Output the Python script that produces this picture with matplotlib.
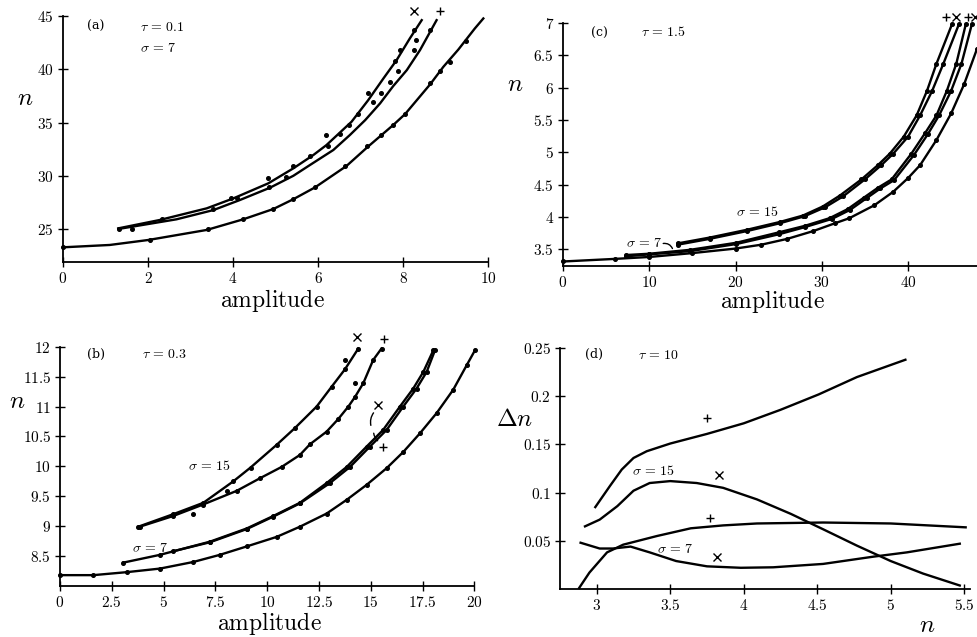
import numpy as np
import matplotlib
matplotlib.use("Agg")
import matplotlib.pyplot as plt
from matplotlib.ticker import FuncFormatter

plt.rcParams["mathtext.fontset"] = "cm"
plt.rcParams["font.family"] = "serif"
plt.rcParams["font.serif"] = ["DejaVu Serif"]

# ---- panel (a): tau = 0.1, sigma = 7 ----
a_up_x = [1.30, 2.28, 3.38, 4.01, 4.83, 5.42, 5.89, 6.20, 6.79, 7.18, 7.54, 7.85, 8.16, 8.44]
a_up_y = [25.06, 25.85, 26.94, 27.88, 29.29, 30.70, 31.95, 32.89, 35.08, 37.1, 39.15, 40.87, 42.9, 44.62]
a_mid_x = [1.30, 2.67, 3.54, 4.16, 4.87, 5.42, 5.81, 6.36, 6.75, 7.11, 7.46, 7.77, 8.09, 8.40, 8.79]
a_mid_y = [25.0, 25.91, 26.78, 27.72, 28.88, 30.0, 31.01, 32.42, 33.83, 35.23, 36.8, 38.43, 39.93, 41.81, 44.62]
a_low_x = [0, 1.1, 2.01, 3.38, 4.24, 4.95, 5.42, 5.93, 6.67, 7.18, 7.77, 8.05, 8.64, 8.95, 9.30, 9.69, 9.89]
a_low_y = [23.28, 23.5, 23.97, 24.91, 25.91, 26.88, 27.8, 28.91, 30.92, 32.75, 34.77, 35.8, 38.6, 40.24, 41.85, 43.84, 44.78]
a_dot_x = [1.31, 1.62, 2.33, 3.96, 4.82, 5.41, 6.18, 6.73, 7.18, 7.80, 7.92, 8.27, 8.30,
           3.53, 4.09, 4.85, 5.24, 5.80, 6.24, 6.51, 6.94, 7.29, 7.49, 7.69, 7.88, 8.27, 8.63,
           0, 2.04, 3.41, 4.24, 4.94, 5.40, 5.92, 6.63, 7.16, 7.49, 7.76, 8.04, 8.63, 8.86, 9.10, 9.49]
a_dot_y = [25.0, 25.0, 25.9, 27.9, 29.8, 30.9, 33.8, 34.8, 37.8, 40.8, 41.8, 43.7, 42.8,
           26.9, 27.9, 28.9, 29.9, 31.9, 32.8, 33.9, 35.8, 36.9, 37.8, 38.8, 39.8, 41.8, 43.7,
           23.3, 24.0, 25.0, 25.9, 26.9, 27.8, 28.9, 30.9, 32.8, 33.8, 34.8, 35.8, 38.7, 39.8, 40.7, 42.7]

# ---- panel (b): tau = 0.3 ----
b_15x_x = [3.78, 5.47, 6.92, 8.37, 9.20, 10.46, 11.34, 12.39, 13.11, 13.75, 14.40]
b_15x_y = [8.99, 9.20, 9.39, 9.75, 9.98, 10.36, 10.64, 11.0, 11.33, 11.62, 11.97]
b_15p_x = [3.85, 5.47, 6.9, 8.53, 9.65, 10.70, 11.58, 12.07, 12.87, 13.43, 13.92, 14.24, 14.64, 15.12, 15.52]
b_15p_y = [8.99, 9.17, 9.36, 9.59, 9.80, 9.99, 10.19, 10.37, 10.58, 10.79, 11.0, 11.16, 11.39, 11.78, 11.97]
b_7x_x = [3.06, 4.83, 7.24, 9.01, 10.30, 11.58, 12.87, 13.84, 14.80, 15.60, 16.41, 17.05, 17.54, 18.02]
b_7x_y = [8.39, 8.52, 8.74, 8.96, 9.17, 9.39, 9.72, 9.99, 10.33, 10.61, 11.0, 11.30, 11.58, 11.94]
b_7p_x = [5.47, 7.24, 9.01, 10.30, 11.58, 13.03, 14.0, 14.96, 15.77, 16.57, 17.21, 17.70, 18.10]
b_7p_y = [8.58, 8.73, 8.95, 9.16, 9.38, 9.72, 9.99, 10.33, 10.61, 11.0, 11.30, 11.58, 11.94]
b_base_x = [0, 1.61, 3.22, 4.83, 6.43, 7.72, 9.01, 10.46, 11.58, 12.87, 13.84, 14.80, 15.77,
            16.57, 17.37, 18.18, 18.98, 19.63, 20.03]
b_base_y = [8.18, 8.18, 8.23, 8.29, 8.40, 8.52, 8.66, 8.82, 8.99, 9.21, 9.44, 9.69, 9.97,
            10.24, 10.55, 10.89, 11.28, 11.69, 11.94]
b_extra_x = [13.75, 14.24, 8.04, 6.43]
b_extra_y = [11.78, 11.39, 9.58, 9.20]

# ---- panel (c): tau = 1.5 ----
c_15p_x = [13.3, 17, 21.3, 25.1, 27.8, 30.1, 32.1, 34.6, 36.5, 37.9, 39.5, 41.0, 42.2, 43.3, 45.1]
c_15p_y = [3.59, 3.68, 3.80, 3.92, 4.02, 4.16, 4.33, 4.58, 4.80, 4.98, 5.24, 5.57, 5.95, 6.37, 6.98]
c_15x_x = [13.3, 17, 21.3, 25.1, 28, 30.4, 32.5, 35, 36.9, 38.3, 40, 41.4, 42.8, 44.1, 45.9]
c_15x_y = [3.57, 3.66, 3.78, 3.90, 4.01, 4.15, 4.32, 4.58, 4.80, 4.98, 5.24, 5.57, 5.95, 6.37, 6.98]
c_7p_x = [7.3, 10, 14.7, 20.1, 25, 28, 30.9, 33, 34.9, 36.5, 38.1, 40.4, 42, 43.3, 44.5, 45.6, 46.7]
c_7p_y = [3.41, 3.43, 3.49, 3.60, 3.76, 3.86, 3.98, 4.12, 4.30, 4.45, 4.58, 4.98, 5.30, 5.57, 5.95, 6.37, 6.98]
c_7x_x = [7.3, 10, 14.7, 20.1, 25, 28, 31.2, 33.3, 35.2, 36.8, 38.4, 40.7, 42.3, 43.6, 45, 46.2, 47.4]
c_7x_y = [3.39, 3.42, 3.47, 3.58, 3.73, 3.84, 3.97, 4.11, 4.29, 4.44, 4.57, 4.96, 5.28, 5.57, 5.95, 6.37, 6.98]
c_base_x = [0, 6, 10, 15, 20, 23, 26, 29, 31.5, 33.2, 36.1, 38.3, 40, 41.4, 43.3, 45, 46.5, 48]
c_base_y = [3.31, 3.35, 3.38, 3.44, 3.51, 3.57, 3.66, 3.78, 3.90, 3.98, 4.18, 4.39, 4.60, 4.80, 5.19, 5.60, 6.05, 6.6]

# ---- panel (d): tau = 10, Delta n against n ----
d_15p_x = [2.99, 3.09, 3.17, 3.25, 3.34, 3.5, 3.75, 4.0, 4.25, 4.51, 4.77, 5.10]
d_15p_y = [0.085, 0.107, 0.124, 0.136, 0.143, 0.151, 0.161, 0.172, 0.186, 0.202, 0.220, 0.238]
d_15x_x = [2.92, 3.02, 3.14, 3.25, 3.36, 3.50, 3.68, 3.86, 4.09, 4.32, 4.54, 4.77, 5.0, 5.22, 5.47]
d_15x_y = [0.065, 0.072, 0.086, 0.102, 0.110, 0.112, 0.110, 0.105, 0.093, 0.078, 0.062, 0.045, 0.029, 0.016, 0.0036]
d_7p_x = [2.88, 2.95, 3.07, 3.18, 3.41, 3.64, 3.86, 4.09, 4.54, 5.0, 5.51]
d_7p_y = [0.001, 0.017, 0.038, 0.046, 0.055, 0.063, 0.066, 0.068, 0.069, 0.068, 0.064]
d_7x_x = [2.89, 3.02, 3.11, 3.23, 3.36, 3.54, 3.75, 3.98, 4.2, 4.54, 4.88, 5.11, 5.47]
d_7x_y = [0.048, 0.042, 0.042, 0.044, 0.038, 0.029, 0.0235, 0.022, 0.0225, 0.026, 0.0335, 0.038, 0.047]

fig = plt.figure(figsize=(9.77, 6.37), dpi=100)
fmt = FuncFormatter(lambda v, p: "$%g$" % v)


def frame(ax, xlim, ylim, xticks, yticks):
    ax.set_xlim(*xlim)
    ax.set_ylim(*ylim)
    ax.set_xticks(xticks)
    ax.set_yticks(yticks)
    ax.xaxis.set_major_formatter(fmt)
    ax.yaxis.set_major_formatter(fmt)
    for s in ["top", "right"]:
        ax.spines[s].set_visible(False)
    for s in ["left", "bottom"]:
        ax.spines[s].set_linewidth(1.3)
    ax.tick_params(direction="inout", length=7, width=1, labelsize=11, pad=3)


def curve(ax, x, y, dots=True):
    ax.plot(x, y, color="k", lw=1.7, clip_on=False, solid_joinstyle="round")
    if dots:
        ax.plot(x, y, "o", color="k", ms=2.6, clip_on=False)


def mark(ax, x, y, m):
    ax.plot([x], [y], marker=m, color="k", ms=6, mew=1, clip_on=False)


# (a)
ax = fig.add_axes([0.0645, 0.5887, 0.435, 0.386])
frame(ax, (0, 10), (21.9, 45), np.arange(0, 11, 2), np.arange(25, 46, 5))
curve(ax, a_up_x, a_up_y, dots=False)
curve(ax, a_mid_x, a_mid_y, dots=False)
curve(ax, a_low_x, a_low_y, dots=False)
ax.plot(a_dot_x, a_dot_y, "o", color="k", ms=2.6, clip_on=False)
mark(ax, 8.27, 45.5, "x")
mark(ax, 8.86, 45.5, "+")
ax.text(0.56, 44.0, "(a)", fontsize=9, va="center")
ax.text(1.8, 44.0, r"$\tau\,=\,0.1$", fontsize=10, va="center")
ax.text(1.8, 42.0, r"$\sigma\,=\,7$", fontsize=10, va="center")

# (c)
ax = fig.add_axes([0.5763, 0.5824, 0.4237, 0.3815])
frame(ax, (0, 48), (3.24, 7), np.arange(0, 41, 10), np.arange(3.5, 7.01, 0.5))
for cx, cy in [(c_15p_x, c_15p_y), (c_15x_x, c_15x_y), (c_7p_x, c_7p_y),
               (c_7x_x, c_7x_y), (c_base_x, c_base_y)]:
    curve(ax, cx, cy)
for xm, m in [(44.4, "+"), (45.6, "x"), (47.0, "+"), (47.8, "x")]:
    mark(ax, xm, 7.09, m)
ax.text(3.2, 6.84, "(c)", fontsize=9, va="center")
ax.text(9.0, 6.86, r"$\tau\,=\,1.5$", fontsize=10, va="center")
ax.text(7.3, 3.59, r"$\sigma\,=\,7$", fontsize=10, va="center")
ax.text(20.0, 4.07, r"$\sigma\,=\,15$", fontsize=10, va="center")
ax.annotate("", xy=(12.8, 3.47), xytext=(11.3, 3.58),
            arrowprops=dict(arrowstyle="-", lw=1, connectionstyle="arc3,rad=-0.5"))

# (b)
ax = fig.add_axes([0.0614, 0.0802, 0.4241, 0.3755])
frame(ax, (0, 20), (8.0, 12), np.arange(0, 20.1, 2.5), np.arange(8.5, 12.01, 0.5))
for cx, cy in [(b_15x_x, b_15x_y), (b_15p_x, b_15p_y), (b_7x_x, b_7x_y),
               (b_7p_x, b_7p_y), (b_base_x, b_base_y)]:
    curve(ax, cx, cy)
ax.plot(b_extra_x, b_extra_y, "o", color="k", ms=2.6)
mark(ax, 14.36, 12.16, "x")
mark(ax, 15.65, 12.13, "+")
mark(ax, 15.36, 11.03, "x")
mark(ax, 15.57, 10.32, "+")
ax.annotate("", xy=(15.04, 10.64), xytext=(15.22, 10.93),
            arrowprops=dict(arrowstyle="-", lw=1, connectionstyle="arc3,rad=0.3"))
ax.annotate("", xy=(15.14, 10.60), xytext=(15.44, 10.40),
            arrowprops=dict(arrowstyle="-", lw=1, connectionstyle="arc3,rad=-0.3"))
ax.text(1.29, 11.87, "(b)", fontsize=9, va="center")
ax.text(3.94, 11.88, r"$\tau\,=\,0.3$", fontsize=10, va="center")
ax.text(6.19, 10.0, r"$\sigma\,=\,15$", fontsize=10, va="center")
ax.text(3.46, 8.63, r"$\sigma\,=\,7$", fontsize=10, va="center")

# (d)
ax = fig.add_axes([0.5732, 0.0754, 0.4197, 0.378])
frame(ax, (2.75, 5.54), (0, 0.25), np.arange(3, 5.51, 0.5), np.arange(0.05, 0.251, 0.05))
for cx, cy in [(d_15p_x, d_15p_y), (d_15x_x, d_15x_y), (d_7p_x, d_7p_y), (d_7x_x, d_7x_y)]:
    curve(ax, cx, cy, dots=False)
mark(ax, 3.75, 0.177, "+")
mark(ax, 3.83, 0.118, "x")
mark(ax, 3.77, 0.074, "+")
mark(ax, 3.82, 0.033, "x")
ax.text(2.92, 0.243, "(d)", fontsize=9, va="center")
ax.text(3.28, 0.243, r"$\tau\,=\,10$", fontsize=10, va="center")
ax.text(3.24, 0.122, r"$\sigma\,=\,15$", fontsize=10, va="center")
ax.text(3.41, 0.042, r"$\sigma\,=\,7$", fontsize=10, va="center")

# axis titles
fig.text(0.0256, 0.846, r"$n$", fontsize=18, ha="center", va="center")
fig.text(0.527, 0.867, r"$n$", fontsize=18, ha="center", va="center")
fig.text(0.0174, 0.369, r"$n$", fontsize=18, ha="center", va="center")
fig.text(0.527, 0.342, r"$\Delta n$", fontsize=18, ha="center", va="center")
fig.text(0.279, 0.529, r"$\mathrm{amplitude}$", fontsize=17, ha="center", va="center")
fig.text(0.791, 0.526, r"$\mathrm{amplitude}$", fontsize=17, ha="center", va="center")
fig.text(0.276, 0.021, r"$\mathrm{amplitude}$", fontsize=17, ha="center", va="center")
fig.text(0.949, 0.018, r"$n$", fontsize=18, ha="center", va="center")

fig.savefig("out.png", dpi=100)
